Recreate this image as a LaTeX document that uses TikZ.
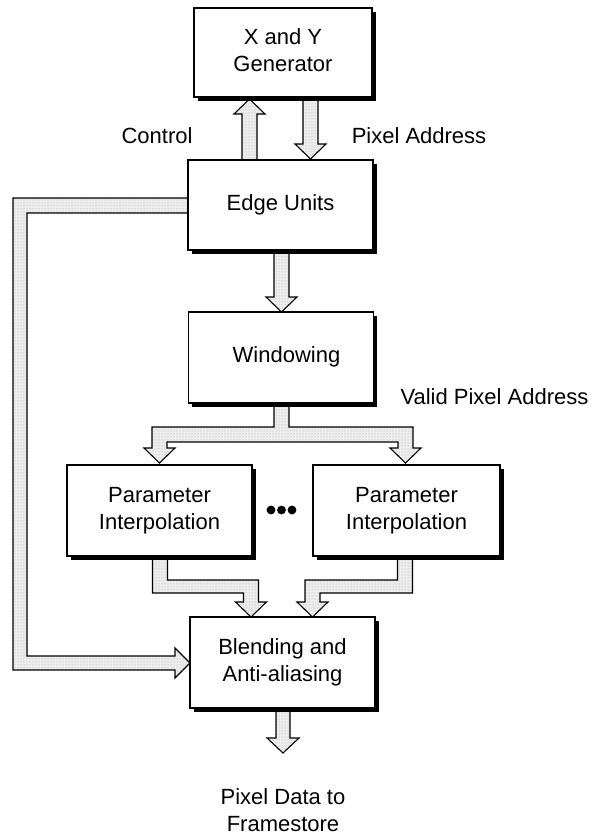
\documentclass[tikz,border=0pt]{standalone}
\usepackage{fontspec}
\setmainfont{Liberation Sans}
\usetikzlibrary{shadows,patterns}
\pgfdeclarelayer{bg}
\pgfsetlayers{bg,main}
\tikzset{
  box/.style={draw=black, line width=1.4pt, fill=white, minimum width=185pt, minimum height=90pt,
    align=center, font=\fontsize{22}{27}\selectfont,
    drop shadow={shadow xshift=3.5pt, shadow yshift=-4pt, opacity=1, fill=black}},
  fat/.style={draw=black, line width=1.1pt, line join=miter,
    preaction={fill=gray!14}, pattern=dots, pattern color=gray!65},
  lbl/.style={font=\fontsize{22}{27}\selectfont, align=center, inner sep=0pt},
}
\begin{document}
\begin{tikzpicture}[x=1pt,y=-1pt]
\useasboundingbox (0,0) rectangle (595,836);

% boxes
\node[box, minimum width=178pt, minimum height=89pt] (xy) at (283,52.5) {\raisebox{4pt}{\begin{tabular}{@{}c@{}}X and Y\\Generator\end{tabular}}};
\node[box] (edge) at (280.5,205) {Edge Units};
\node[box, minimum height=91pt] (win) at (281,357.5) {\hspace*{11pt}\raisebox{5pt}{Windowing}};
\node[box, minimum height=91pt] (pl) at (159.5,510.5) {Parameter\\Interpolation};
\node[box, minimum width=187pt, minimum height=91pt] (pr) at (406.5,510.5) {Parameter\\Interpolation};
\node[box, minimum height=91pt] (bl) at (282.5,662.5) {Blending and\\Anti-aliasing};

% ellipsis dots
\fill (271,510) circle (4.4);
\fill (281.5,510) circle (4.4);
\fill (292,510) circle (4.4);

% labels
\node[lbl] (ctl) at (157,136) {Control};
\node[lbl] (pa) at (419,136) {Pixel Address};
\node[lbl] (vpa) at (494.5,397) {Valid Pixel Address};
\node[lbl] (out) at (283,810) {Pixel Data to\\Framestore};

\begin{pgfonlayer}{bg}
% Control (edge -> xy), upward
\draw[fat] (242,170) -- (242,114) -- (234,114) -- (249.5,99) -- (265,114) -- (257,114) -- (257,170) -- cycle;
% Pixel Address (xy -> edge), downward
\draw[fat] (303,90) -- (303,144) -- (295,144) -- (310.5,159) -- (326,144) -- (318,144) -- (318,90) -- cycle;
% edge -> win
\draw[fat] (274,240) -- (274,297) -- (266,297) -- (281.5,312) -- (297,297) -- (289,297) -- (289,240) -- cycle;
% win -> pl, pr
\draw[fat] (274,395) -- (274,427) -- (152,427) -- (152,448) -- (144,448) -- (159.5,463) -- (175,448)
  -- (167,448) -- (167,442) -- (398,442) -- (398,448) -- (390,448) -- (405.5,463) -- (421,448)
  -- (413,448) -- (413,427) -- (289,427) -- (289,395) -- cycle;
% pl -> bl
\draw[fat] (152.5,550) -- (152.5,593) -- (243.5,593) -- (243.5,602) -- (235.5,602) -- (251,617)
  -- (266.5,602) -- (258.5,602) -- (258.5,580) -- (167.5,580) -- (167.5,550) -- cycle;
% pr -> bl
\draw[fat] (412.5,550) -- (412.5,593) -- (320,593) -- (320,602) -- (328,602) -- (312.5,617)
  -- (297,602) -- (305,602) -- (305,580) -- (397.5,580) -- (397.5,550) -- cycle;
% edge -> bl (left route)
\draw[fat] (200,198) -- (13,198) -- (13,670) -- (175,670) -- (175,678) -- (190,663) -- (175,648)
  -- (175,656) -- (27,656) -- (27,213) -- (200,213) -- cycle;
% bl -> output
\draw[fat] (276,700) -- (276,738) -- (267,738) -- (283,753) -- (299,738) -- (290,738) -- (290,700) -- cycle;
\end{pgfonlayer}
\end{tikzpicture}
\end{document}
